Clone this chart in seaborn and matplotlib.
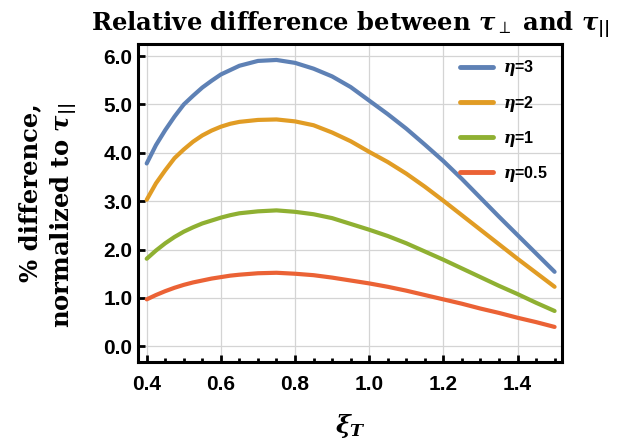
import pandas as pd
import matplotlib
matplotlib.use("Agg")
import matplotlib.pyplot as plt
from matplotlib.ticker import MultipleLocator
import seaborn as sns

# valores
xi_T = [0.400, 0.425, 0.450, 0.475, 0.500, 0.525, 0.550, 0.575, 0.600, 0.625, 0.650,
        0.700, 0.750, 0.800, 0.850, 0.900, 0.950, 1.000, 1.050, 1.100, 1.150, 1.200,
        1.250, 1.300, 1.350, 1.400, 1.450, 1.500]
eta_3 = [3.78, 4.16, 4.47, 4.75, 5.00, 5.18, 5.35, 5.49, 5.62, 5.71, 5.80,
         5.90, 5.92, 5.86, 5.74, 5.58, 5.36, 5.08, 4.80, 4.50, 4.17, 3.83,
         3.46, 3.07, 2.68, 2.30, 1.92, 1.54]
eta_2 = [3.03, 3.37, 3.64, 3.89, 4.07, 4.23, 4.36, 4.46, 4.54, 4.60, 4.64,
         4.68, 4.69, 4.65, 4.57, 4.42, 4.24, 4.02, 3.81, 3.57, 3.30, 3.01,
         2.71, 2.41, 2.11, 1.81, 1.52, 1.23]
eta_1 = [1.81, 1.98, 2.13, 2.26, 2.37, 2.46, 2.54, 2.60, 2.66, 2.71, 2.75,
         2.79, 2.81, 2.78, 2.73, 2.65, 2.53, 2.41, 2.28, 2.13, 1.96, 1.79,
         1.61, 1.43, 1.25, 1.08, 0.90, 0.73]
eta_05 = [0.97, 1.06, 1.14, 1.21, 1.27, 1.32, 1.36, 1.40, 1.43, 1.46, 1.48,
          1.51, 1.52, 1.50, 1.47, 1.42, 1.36, 1.30, 1.23, 1.15, 1.06, 0.97,
          0.88, 0.78, 0.69, 0.59, 0.50, 0.40]
etiquetas = [r"$\eta$=3", r"$\eta$=2", r"$\eta$=1", r"$\eta$=0.5"]
colores = ["#5E81B5", "#E19C24", "#8FB032", "#EB6235"]

datos = pd.DataFrame({
    "xi": xi_T * 4,
    "dif": eta_3 + eta_2 + eta_1 + eta_05,
    "eta": sum([[e] * len(xi_T) for e in etiquetas], []),
})

sns.set_style("whitegrid")
plt.rcParams["text.color"] = "black"
plt.rcParams["axes.labelcolor"] = "black"
plt.rcParams["xtick.color"] = "black"
plt.rcParams["ytick.color"] = "black"
plt.rcParams["mathtext.fontset"] = "custom"
plt.rcParams["mathtext.it"] = "DejaVu Serif:italic:bold"
plt.rcParams["mathtext.rm"] = "DejaVu Serif:bold"
plt.rcParams["mathtext.bf"] = "DejaVu Serif:bold"

fig, ax = plt.subplots(figsize=(6.23, 4.41), dpi=100)
fig.subplots_adjust(left=138/623, right=562/623, top=1-44/441, bottom=1-362/441)

sns.lineplot(data=datos, x="xi", y="dif", hue="eta", hue_order=etiquetas,
             palette=colores, linewidth=3, ax=ax)

ax.set_xlim(0.3765, 1.52)
ax.set_ylim(-0.325, 6.25)
ax.xaxis.set_major_locator(MultipleLocator(0.2))
ax.xaxis.set_minor_locator(MultipleLocator(0.05))
ax.yaxis.set_major_locator(MultipleLocator(1.0))
ax.xaxis.set_major_formatter(plt.FuncFormatter(lambda v, p: f"{v:.1f}"))
ax.yaxis.set_major_formatter(plt.FuncFormatter(lambda v, p: f"{v:.1f}"))

ax.grid(True, which="major", color="#d4d4d4", linewidth=0.9)
ax.grid(False, which="minor")
for lado in ["left", "right", "top", "bottom"]:
    ax.spines[lado].set_color("black")
    ax.spines[lado].set_linewidth(2.2)

ax.tick_params(axis="both", which="major", direction="in", length=5, width=2,
               color="black", labelcolor="black", bottom=True, left=True, top=False, right=False)
ax.tick_params(axis="x", which="major", pad=9)
ax.tick_params(axis="y", which="major", pad=4)
ax.tick_params(axis="x", which="minor", direction="in", length=3, width=2,
               color="black", bottom=True, top=False)
for lab in ax.get_xticklabels() + ax.get_yticklabels():
    lab.set_family("Liberation Sans")
    lab.set_fontweight("bold")
    lab.set_fontsize(15)

ax.set_title(r"Relative difference between $\tau_{\perp}$ and $\tau_{||}$",
             family="DejaVu Serif", fontweight="bold", fontsize=17.5, pad=10, color="black")
ax.set_xlabel(r"$\xi_T$", fontsize=18, labelpad=13, color="black")
ax.set_ylabel("% difference,\n" + r"normalized to $\tau_{||}$", family="DejaVu Serif",
              fontweight="bold", fontsize=17.5, linespacing=1.3, multialignment="right",
              color="black")
ax.yaxis.set_label_coords(-0.14, 0.46)

leg = ax.legend(loc="upper right", frameon=False, handlelength=2.1, handletextpad=0.6,
                labelspacing=0.95, borderaxespad=0.5,
                prop={"family": "Liberation Sans", "weight": "bold", "size": 11.5})
for linea in leg.get_lines():
    linea.set_linewidth(3.5)
for texto in leg.get_texts():
    texto.set_color("black")

plt.savefig("out.png", dpi=100)
